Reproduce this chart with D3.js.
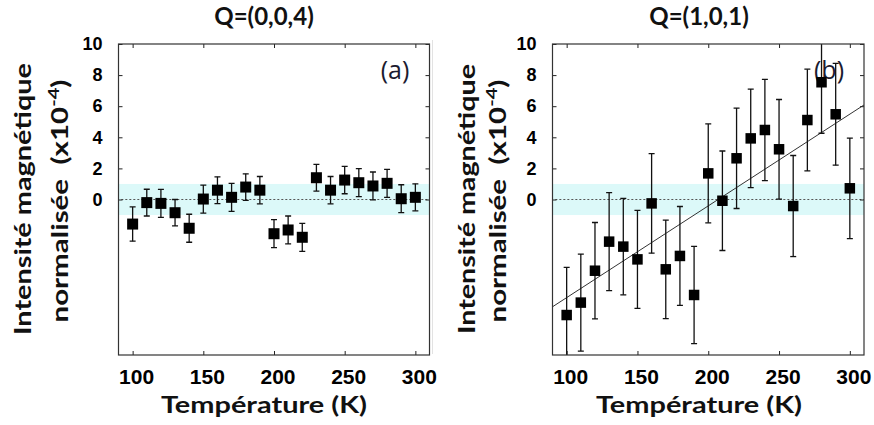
<!DOCTYPE html>
<html><head><meta charset="utf-8">
<script src="https://cdn.jsdelivr.net/npm/d3@7"></script>
<style>body{margin:0;background:#fff;} svg{display:block}</style>
</head><body><svg id="c" width="874" height="425"></svg>
<script>
// ---- data ----
const temperatures = [100,110,120,130,140,150,160,170,180,190,200,210,220,230,240,250,260,270,280,290,300];
const tickTemps = [100,150,200,250,300];
const tickValues = [0,2,4,6,8,10];
const valuesA = [-1.58,-0.2,-0.25,-0.85,-1.85,0.03,0.6,0.14,0.8,0.6,-2.2,-1.96,-2.43,1.4,0.6,1.25,1.08,0.87,1.04,0.05,0.14];
const errorsA = [1.1,0.86,0.9,0.85,0.9,0.9,0.86,0.9,0.85,0.88,0.9,0.9,0.9,0.86,0.88,0.88,0.9,0.9,0.9,0.9,0.87];
const valuesB = [-7.43,-6.63,-4.58,-2.71,-3.03,-3.85,-0.25,-4.49,-3.63,-6.14,1.68,-0.08,2.65,3.93,4.47,3.23,-0.42,5.11,7.54,5.48,0.72];
const errorsB = [3.07,3.12,3.1,3.15,3.1,3.15,3.2,3.17,3.18,3.13,3.18,3.2,3.23,3.17,3.26,3.2,3.25,3.27,3.28,3.27,3.23];
const fitT = [90,310];
const fitB = [-6.9,6.08];
const bandRange = [-1,1];
const titles = ["Q=(0,0,4)","Q=(1,0,1)"];
const panelLabels = ["(a)","(b)"];
const xTitle = "Température (K)";
const yTitle1 = "Intensité magnétique";
const yTitle2 = "normalisée  (x10";
const yTitleSup = "-4";
const xDomain = [90,310];
const yDomain = [-10,10];

// ---- layout ----
const svg = d3.select("#c");
const topY = 44, bottomY = 355;
const titleFont = "Lato, 'Open Sans', sans-serif";
const tickFont = "'Liberation Sans', Arial, sans-serif";

const panels = [
  {x0:118.5, x1:429.5, vals:valuesA, errs:errorsA, fit:null, yt1:23, yt2:60, titleX:264, xtX:264, labelX:395, labelY:79, len1:272, len2:243},
  {x0:552.5, x1:864, vals:valuesB, errs:errorsB, fit:fitB, yt1:467, yt2:498, titleX:699, xtX:699, labelX:829, labelY:79, len1:270, len2:243}
];

panels.forEach((p, i) => {
  const x = d3.scaleLinear().domain(xDomain).range([p.x0, p.x1]);
  const y = d3.scaleLinear().domain(yDomain).range([bottomY, topY]);
  const g = svg.append("g");
  const clipId = "clip" + i;
  svg.append("clipPath").attr("id", clipId).append("rect")
    .attr("x", p.x0).attr("y", topY).attr("width", p.x1 - p.x0).attr("height", bottomY - topY);

  // band
  g.append("rect").attr("x", p.x0).attr("width", p.x1 - p.x0)
    .attr("y", y(bandRange[1])).attr("height", y(bandRange[0]) - y(bandRange[1]))
    .attr("fill", "#dcf9f9");
  // zero dotted line
  g.append("line").attr("x1", x(92)).attr("x2", x(310)).attr("y1", y(0)).attr("y2", y(0))
    .attr("stroke", "#555").attr("stroke-width", 1).attr("stroke-dasharray", "2,2");

  // panel label
  g.append("text").attr("x", p.labelX).attr("y", p.labelY).attr("text-anchor", "middle")
    .attr("font-family", "'Open Sans', Lato, sans-serif").attr("font-size", 25).attr("fill", "#1b1b30")
    .text(panelLabels[i]);

  const data = temperatures.map((t, k) => ({t, v: p.vals[k], e: p.errs[k]}));
  const dg = g.append("g").attr("clip-path", `url(#${clipId})`);

  // fit line
  if (p.fit) {
    dg.append("path").datum(fitT.map((t, k) => [t, p.fit[k]]))
      .attr("d", d3.line().x(d => x(d[0])).y(d => y(d[1])))
      .attr("stroke", "#333").attr("stroke-width", 1).attr("fill", "none");
  }
  // error bars
  const eb = dg.selectAll(".eb").data(data).enter().append("g");
  eb.append("line").attr("x1", d => x(d.t)).attr("x2", d => x(d.t))
    .attr("y1", d => y(d.v + d.e)).attr("y2", d => y(d.v - d.e))
    .attr("stroke", "#111").attr("stroke-width", 1.3);
  [1, -1].forEach(s => {
    eb.append("line").attr("x1", d => x(d.t) - 3).attr("x2", d => x(d.t) + 3)
      .attr("y1", d => y(d.v + s * d.e)).attr("y2", d => y(d.v + s * d.e))
      .attr("stroke", "#111").attr("stroke-width", 1.3);
  });
  // markers
  const ms = i === 0 ? 11 : 10.5;
  dg.selectAll(".m").data(data).enter().append("rect")
    .attr("x", d => x(d.t) - ms / 2).attr("y", d => y(d.v) - ms / 2)
    .attr("width", ms).attr("height", ms).attr("fill", "#000");

  // axes
  const axB = d3.axisBottom(x).tickValues(tickTemps).tickSize(-4).tickPadding(14).tickFormat(d3.format("d"));
  const axT = d3.axisTop(x).tickValues(tickTemps).tickSize(-4).tickFormat("");
  const axL = d3.axisLeft(y).tickValues(tickValues).tickSize(-4).tickPadding(16).tickFormat(d3.format("d"));
  const axR = d3.axisRight(y).tickValues(tickValues).tickSize(-4).tickFormat("");
  const styleAxis = sel => {
    sel.select(".domain").remove();
    sel.selectAll(".tick line").attr("stroke", "#222").attr("stroke-width", 1);
  };
  const gb = g.append("g").attr("transform", `translate(0,${bottomY})`).call(axB).call(styleAxis);
  gb.selectAll("text").attr("font-family", tickFont).attr("font-weight", "bold").attr("font-size", 21)
    .attr("fill", "#000").attr("dx", 3.5);
  g.append("g").attr("transform", `translate(0,${topY})`).call(axT).call(styleAxis);
  const gl = g.append("g").attr("transform", `translate(${p.x0},0)`).call(axL).call(styleAxis);
  gl.selectAll("text").attr("font-family", tickFont).attr("font-weight", "bold").attr("font-size", 18)
    .attr("fill", "#000");
  g.append("g").attr("transform", `translate(${p.x1},0)`).call(axR).call(styleAxis);

  // frame
  g.append("rect").attr("x", p.x0).attr("y", topY).attr("width", p.x1 - p.x0).attr("height", bottomY - topY)
    .attr("fill", "none").attr("stroke", "#333").attr("stroke-width", 1.2);

  // titles
  g.append("text").attr("x", p.titleX).attr("y", 25).attr("text-anchor", "middle")
    .attr("font-family", titleFont).attr("font-weight", "bold").attr("font-size", 24).attr("fill", "#111")
    .text(titles[i]);
  g.append("text").attr("x", p.xtX).attr("y", 413).attr("text-anchor", "middle")
    .attr("font-family", titleFont).attr("font-weight", "bold").attr("font-size", 23).attr("fill", "#111")
    .attr("textLength", 206).attr("lengthAdjust", "spacingAndGlyphs")
    .text(xTitle);
  // y titles
  g.append("text").attr("transform", `translate(${p.yt1 + 8},199) rotate(-90)`).attr("text-anchor", "middle")
    .attr("font-family", titleFont).attr("font-weight", "bold").attr("font-size", 22).attr("fill", "#111")
    .attr("textLength", p.len1).attr("lengthAdjust", "spacingAndGlyphs")
    .text(yTitle1);
  const t2 = g.append("text").attr("transform", `translate(${p.yt2 + 8},201) rotate(-90)`).attr("text-anchor", "middle")
    .attr("font-family", titleFont).attr("font-weight", "bold").attr("font-size", 22).attr("fill", "#111")
    .style("white-space", "pre")
    .attr("textLength", p.len2).attr("lengthAdjust", "spacingAndGlyphs");
  t2.append("tspan").text(yTitle2);
  t2.append("tspan").attr("font-size", 15).attr("dy", -9).text(yTitleSup);
  t2.append("tspan").attr("dy", 9).text(")");
});

// faint separator
svg.append("line").attr("x1", 432.5).attr("x2", 432.5).attr("y1", 40).attr("y2", 354)
  .attr("stroke", "#e2e2e2").attr("stroke-width", 1);
</script>
</body></html>
